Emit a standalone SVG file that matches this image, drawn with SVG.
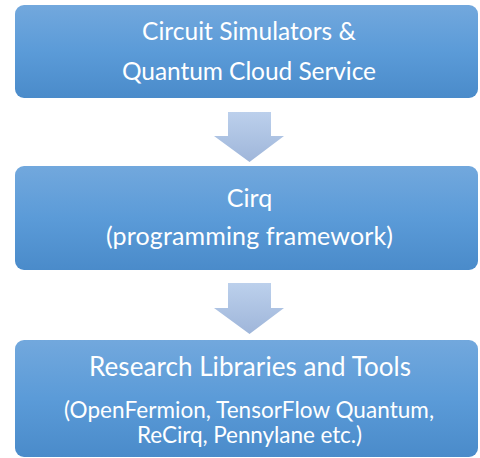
<svg xmlns="http://www.w3.org/2000/svg" width="480" height="458" viewBox="0 0 480 458">
<defs>
<linearGradient id="boxg" x1="0" y1="0" x2="0" y2="1">
<stop offset="0" stop-color="#72a8dd"/>
<stop offset="0.5" stop-color="#5b9bd8"/>
<stop offset="1" stop-color="#4a8bca"/>
</linearGradient>
<linearGradient id="arrg" x1="0" y1="0" x2="0" y2="1">
<stop offset="0" stop-color="#bcd0ec"/>
<stop offset="1" stop-color="#9fb6da"/>
</linearGradient>
</defs>
<style>
.box{fill:url(#boxg);}
.arr{fill:url(#arrg);}
text{font-family:Lato,"Liberation Sans",sans-serif;fill:#ffffff;text-anchor:middle;}
.t1{font-size:24.5px;}
.t2{font-size:25px;}
.t3{font-size:26px;}
.small{font-size:22.5px;}
</style>
<g id="connectors">
<polygon class="arr" points="228,112 271,112 271,136 284,136 249.5,162 214,136 228,136"/>
<polygon class="arr" points="228,283 271,283 271,308 284,308 249.5,334 214,308 228,308"/>
</g>
<g id="node-simulators">
<rect class="box" x="15" y="5" width="463" height="93" rx="9"/>
<text class="t1" x="249" y="40" textLength="214">Circuit Simulators &amp;</text>
<text class="t1" x="249" y="80" textLength="254">Quantum Cloud Service</text>
</g>
<g id="node-cirq">
<rect class="box" x="15" y="166" width="463" height="104" rx="9"/>
<text class="t2" x="249.5" y="207">Cirq</text>
<text class="t2" x="249.5" y="245" textLength="287">(programming framework)</text>
</g>
<g id="node-research">
<rect class="box" x="15" y="340" width="463" height="117" rx="9"/>
<text class="t3" x="250" y="376" textLength="322">Research Libraries and Tools</text>
<text class="small" x="249" y="418" textLength="370">(OpenFermion, TensorFlow Quantum,</text>
<text class="small" x="249.5" y="443" textLength="225">ReCirq, Pennylane etc.)</text>
</g>
</svg>
